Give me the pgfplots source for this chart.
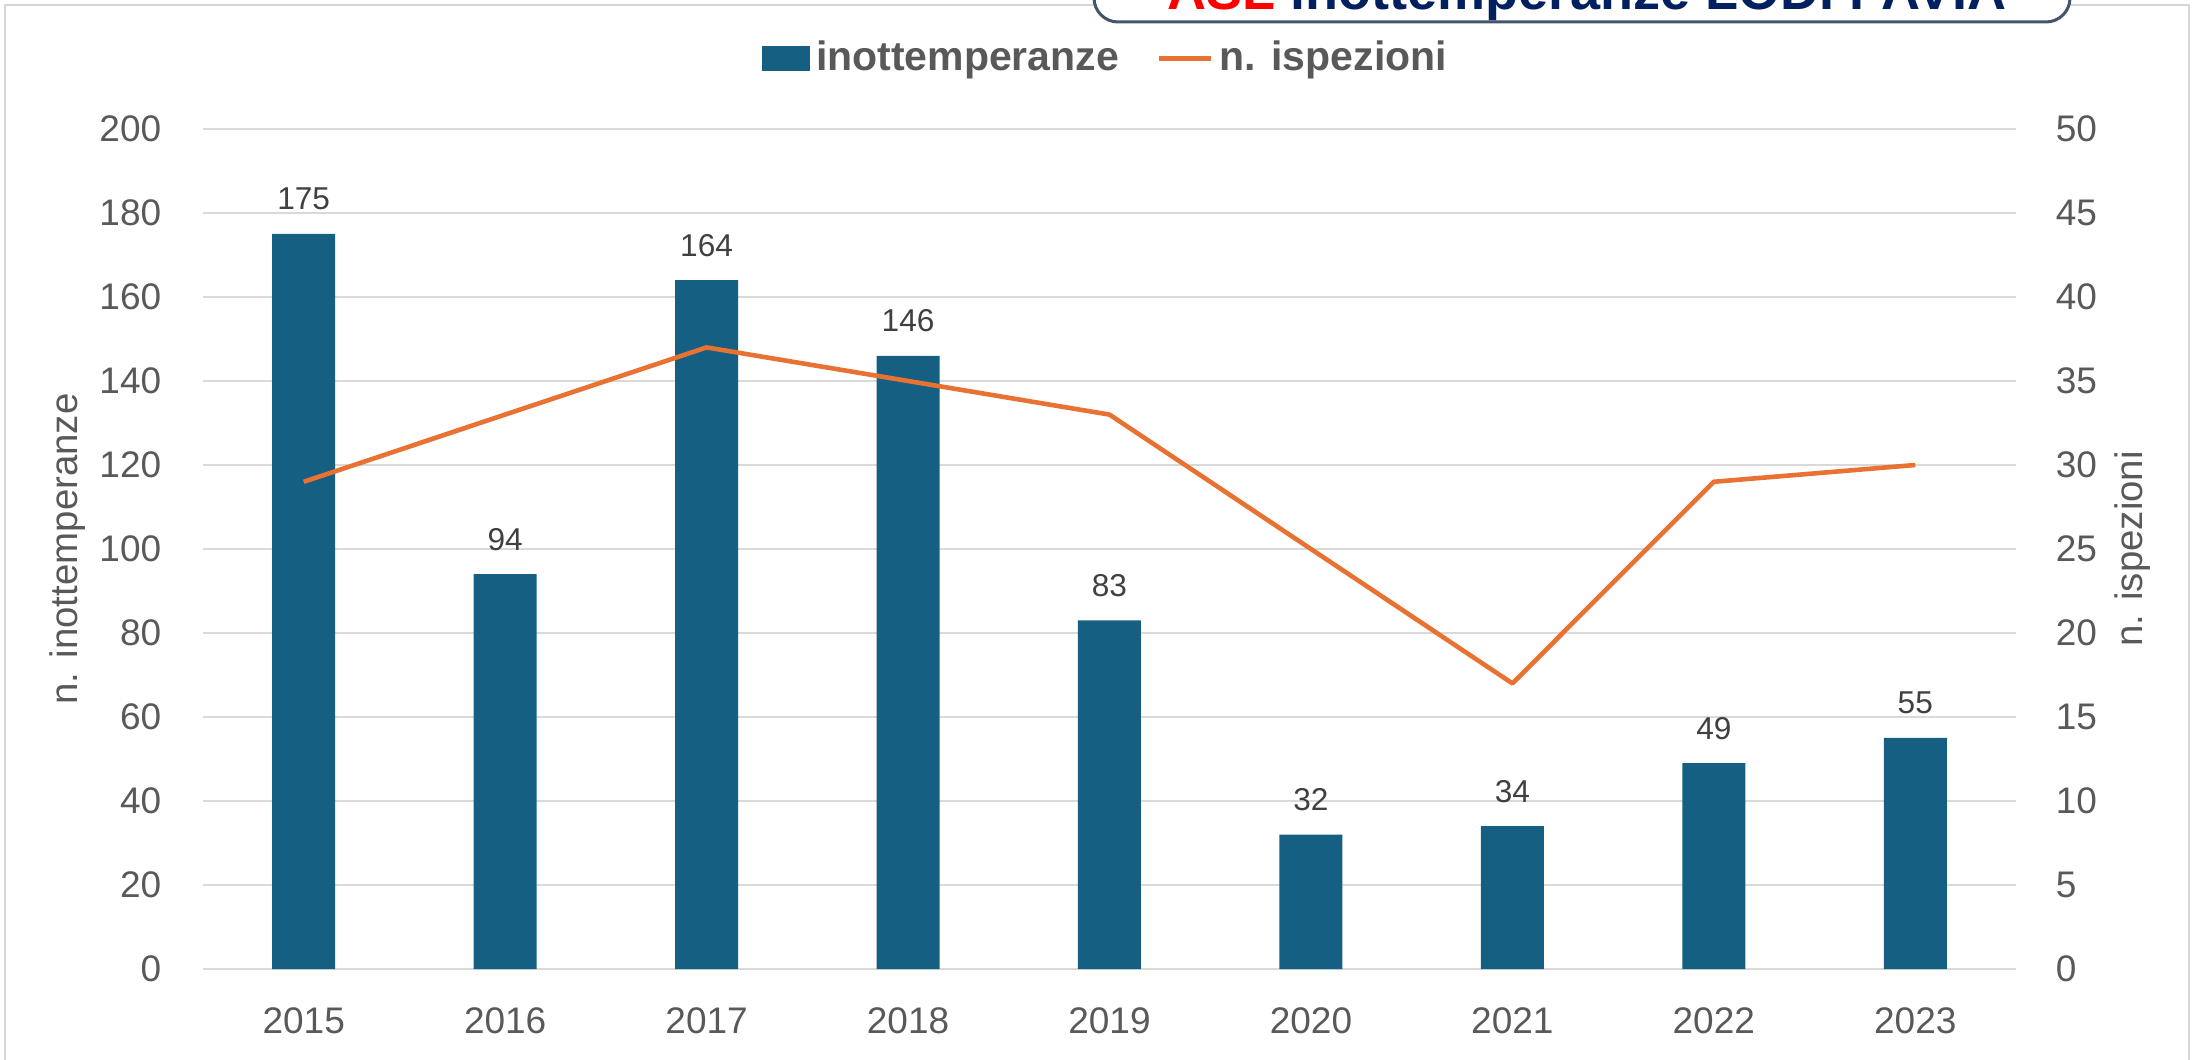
\documentclass[border=0pt]{standalone}
\usepackage{pgfplots}
\pgfplotsset{compat=1.18}
\usepackage{fontspec}
\setmainfont{Liberation Sans}
\definecolor{barblue}{HTML}{156082}
\definecolor{lineorange}{HTML}{E97132}
\definecolor{gridgray}{HTML}{D9D9D9}
\definecolor{tickgray}{HTML}{595959}
\definecolor{labgray}{HTML}{404040}
\definecolor{framegray}{HTML}{D6D6D6}
\definecolor{boxedge}{HTML}{44546A}
\definecolor{navy}{HTML}{002060}
\begin{document}
\begin{tikzpicture}
\useasboundingbox (0pt,0pt) rectangle (548pt,264.75pt);
% outer frame of the chart area
\draw[framegray, line width=0.6pt] (1.25pt,-3pt) -- (1.25pt,263.5pt) -- (547.25pt,263.5pt) -- (547.25pt,-3pt);
% partially visible title box
\draw[boxedge, line width=0.75pt, fill=white, rounded corners=6pt] (273.5pt,290pt) -- (273.5pt,259.25pt) -- (517.5pt,259.25pt) -- (517.5pt,290pt);
\node[anchor=base, inner sep=0pt, font=\bfseries\fontsize{13.5}{16}\selectfont] at (396.75pt,262.4pt) {\textcolor{red}{ASL} \textcolor{navy}{inottemperanze LODI PAVIA}};

\pgfplotsset{
  base/.style={
    scale only axis,
    width=453.25pt, height=210pt,
    at={(50.75pt,22.5pt)}, anchor=south west,
    xmin=-0.5, xmax=8.5,
    axis line style={draw=none},
    tick style={draw=none},
    major tick length=0pt,
    /pgf/number format/assume math mode=true,
    ticklabel style={font=\fontsize{9.25}{11}\selectfont, text=tickgray},
  }
}
\begin{axis}[base,
  ymin=0, ymax=200,
  ytick={0,20,...,200},
  ymajorgrids,
  grid style={gridgray, line width=0.55pt},
  xtick={0,...,8},
  xticklabels={2015,2016,2017,2018,2019,2020,2021,2022,2023},
  xticklabel style={anchor=north, inner sep=0pt, yshift=-9.5pt},
  yticklabel style={anchor=east, inner sep=0pt, xshift=-10.25pt},
  ylabel={n. inottemperanze},
  every axis y label/.style={at={(axis description cs:-0.0745,0.5)}, rotate=90, anchor=center,
    font=\fontsize{9.6}{11.5}\selectfont, text=tickgray},
  ybar, bar width=15.75pt,
  nodes near coords,
  every node near coord/.append style={anchor=south, inner sep=0pt, yshift=5.75pt, font=\fontsize{7.9}{9}\selectfont, text=labgray},
]
\addplot[fill=barblue, draw=none] coordinates {(0,175) (1,94) (2,164) (3,146) (4,83) (5,32) (6,34) (7,49) (8,55)};
\end{axis}

\begin{axis}[base,
  ymin=0, ymax=50,
  ytick={0,5,...,50},
  xtick=\empty,
  axis y line*=right,
  yticklabel style={anchor=west, inner sep=0pt, xshift=9.75pt},
  ylabel={n. ispezioni},
  every axis y label/.style={at={(axis description cs:1.0645,0.5)}, rotate=90, anchor=center,
    font=\fontsize{9.6}{11.5}\selectfont, text=tickgray},
  legend style={at={(0.4990,1.084)}, anchor=center, draw=none, fill=none,
    legend columns=2, font=\bfseries\fontsize{10.25}{12}\selectfont, text=tickgray,
    /tikz/every even column/.append style={column sep=8pt},
    /tikz/every odd column/.append style={column sep=0pt},
    nodes={inner xsep=1.5pt}},
]
\addlegendimage{legend image code/.code={\fill[barblue] (0pt,-2.9pt) rectangle (11.5pt,2.9pt);}}
\addlegendentry{inottemperanze}
\addplot[lineorange, line width=1.15pt, line join=round,
  legend image code/.code={\draw[lineorange, line width=1.2pt] (0pt,0pt) -- (13pt,0pt);}]
  coordinates {(0,29) (1,33) (2,37) (3,35) (4,33) (5,25) (6,17) (7,29) (8,30)};
\addlegendentry{n. ispezioni}
\end{axis}
\end{tikzpicture}
\end{document}
